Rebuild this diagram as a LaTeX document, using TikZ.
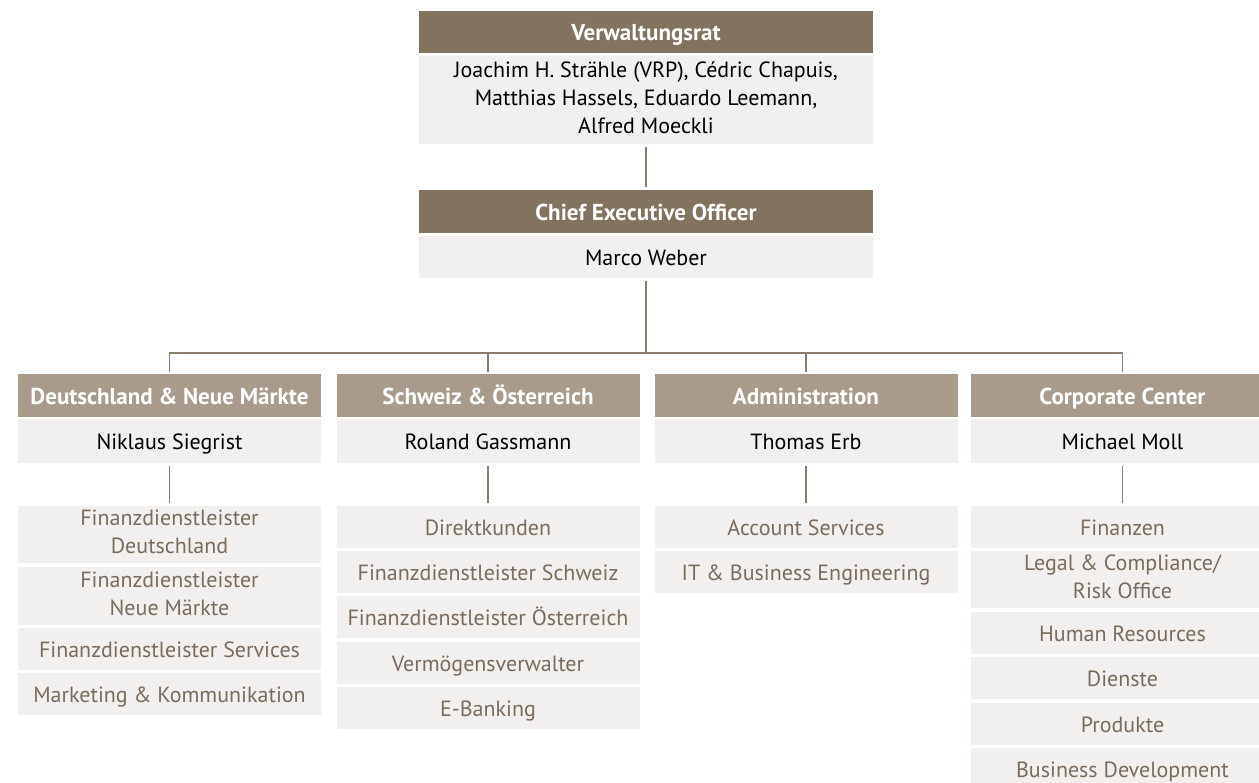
\documentclass[tikz,border=0pt]{standalone}
\usepackage{fontspec}
\setmainfont{PT Sans}
\definecolor{darkhdr}{RGB}{130,115,95}
\definecolor{lighthdr}{RGB}{168,155,140}
\definecolor{bodyfill}{RGB}{241,240,238}
\definecolor{itemtext}{RGB}{122,108,92}
\definecolor{linec}{RGB}{140,125,108}
\begin{document}
\begin{tikzpicture}[x=1pt,y=-1pt,
  box/.style={rectangle, inner sep=0pt, minimum width=303pt, minimum height=42pt, align=center, anchor=center,
    execute at begin node={\rule[-0.25em]{0pt}{1.25em}}},
  tophdr/.style={box, minimum width=454pt, fill=darkhdr, text=white, font=\bfseries\fontsize{23}{26}\selectfont},
  topbody/.style={box, minimum width=454pt, fill=bodyfill, text=black, font=\fontsize{22}{28}\selectfont},
  colhdr/.style={box, fill=lighthdr, text=white, font=\bfseries\fontsize{23}{26}\selectfont},
  namebox/.style={box, fill=bodyfill, text=black, font=\fontsize{22}{28}\selectfont},
  itembox/.style={box, fill=bodyfill, text=itemtext, font=\fontsize{22}{28}\selectfont},
  conn/.style={draw=linec, line width=1.5pt}]
\clip (0,0) rectangle (1259,783);
\fill[white] (0,0) rectangle (1259,783);
% top
\node[tophdr] (vr) at (646,32) {Verwaltungsrat};
\node[topbody, minimum height=88pt] (vrb) at (646,100) {Joachim H. Strähle (VRP), Cédric Chapuis,\\Matthias Hassels, Eduardo Leemann,\\Alfred Moeckli};
\node[tophdr, minimum height=43pt] (ceo) at (646,211.5) {Chief Executive Officer};
\node[topbody, minimum height=42pt] (ceob) at (646,257) {Marco Weber};
% column headers
\node[colhdr, minimum height=43pt] (h1) at (169.5,395.5) {Deutschland \& Neue Märkte};
\node[colhdr, minimum height=43pt] (h2) at (488,395.5) {Schweiz \& \smash{Ö}sterreich};
\node[colhdr, minimum height=43pt] (h3) at (806,395.5) {Administration};
\node[colhdr, minimum height=43pt] (h4) at (1122.5,395.5) {Corporate Center};
\node[namebox, minimum height=44pt] (n1) at (169.5,441) {Niklaus Siegrist};
\node[namebox, minimum height=44pt] (n2) at (488,441) {Roland Gassmann};
\node[namebox, minimum height=44pt] (n3) at (806,441) {Thomas Erb};
\node[namebox, minimum height=44pt] (n4) at (1122.5,441) {Michael Moll};
% column 1
\node[itembox, minimum height=57pt] (d1) at (169.5,534.5) {Finanzdienstleister\\Deutschland};
\node[itembox, minimum height=58pt] (d2) at (169.5,596) {Finanzdienstleister\\Neue Märkte};
\node[itembox] (d3) at (169.5,649) {Finanzdienstleister Services};
\node[itembox] (d4) at (169.5,694) {Marketing \& Kommunikation};
% column 2
\node[itembox] (s1) at (488,527) {Direktkunden};
\node[itembox] (s2) at (488,572) {Finanzdienstleister Schweiz};
\node[itembox] (s3) at (488,617) {Finanzdienstleister \smash{Ö}sterreich};
\node[itembox] (s4) at (488,663) {Vermögensverwalter};
\node[itembox] (s5) at (488,708) {E-Banking};
% column 3
\node[itembox] (a1) at (806,527) {Account Services};
\node[itembox] (a2) at (806,572) {IT \& Business Engineering};
% column 4
\node[itembox] (c1) at (1122.5,527) {Finanzen};
\node[itembox, minimum height=57pt] (c2) at (1122.5,579.5) {Legal \& Compliance/\\Risk Office};
\node[itembox] (c3) at (1122.5,633) {Human Resources};
\node[itembox] (c4) at (1122.5,678) {Dienste};
\node[itembox] (c5) at (1122.5,724) {Produkte};
\node[itembox] (c6) at (1122.5,769) {Business Development};
% connectors
\coordinate (bus) at (646,353);
\coordinate (bl) at (169.5,353);
\coordinate (b2) at (488,353);
\coordinate (b3) at (806,353);
\coordinate (br) at (1122.5,353);
\draw[conn, shorten <=3pt, shorten >=3pt] (vrb.south) -- (ceo.north);
\draw[conn, shorten <=3pt] (ceob.south) -- (bus);
\draw[conn, shorten <=2pt, shorten >=2pt] (h1.north) -- (bl) -- (br) -- (h4.north);
\draw[conn, shorten >=2pt] (b2) -- (h2.north);
\draw[conn, shorten >=2pt] (b3) -- (h3.north);
\draw[conn, shorten <=3pt, shorten >=3pt] (n1.south) -- (d1.north);
\draw[conn, shorten <=3pt, shorten >=3pt] (n2.south) -- (s1.north);
\draw[conn, shorten <=3pt, shorten >=3pt] (n3.south) -- (a1.north);
\draw[conn, shorten <=3pt, shorten >=3pt] (n4.south) -- (c1.north);
\end{tikzpicture}
\end{document}
